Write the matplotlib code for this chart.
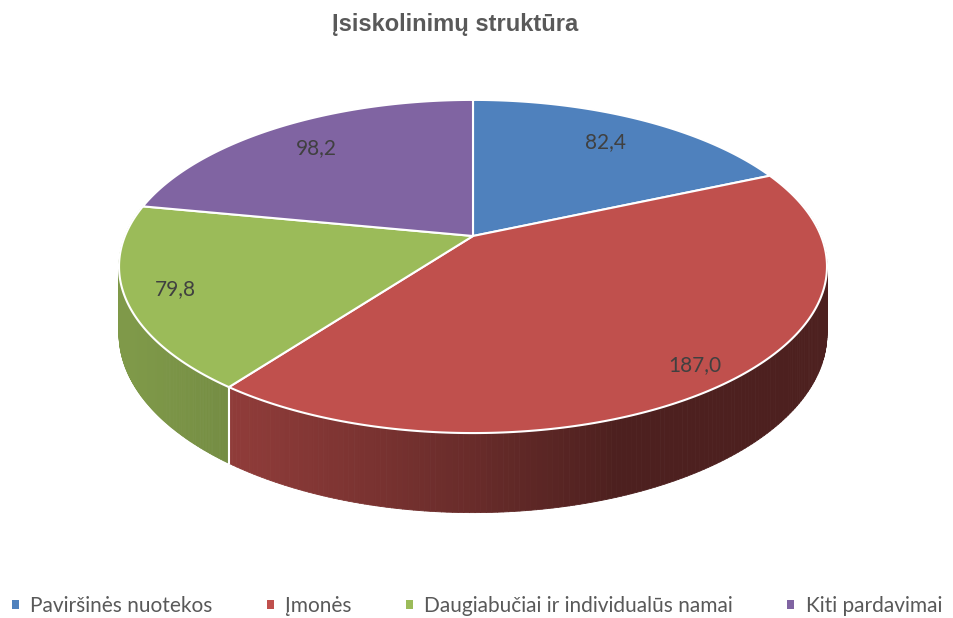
import numpy as np
import matplotlib
matplotlib.use('Agg')
import matplotlib.pyplot as plt
from matplotlib.patches import Polygon, Patch
from matplotlib.collections import PolyCollection

# data
categories = ['Paviršinės nuotekos', 'Įmonės', 'Daugiabučiai ir individualūs namai', 'Kiti pardavimai']
values = [82.4, 187.0, 79.8, 98.2]
value_labels = ['82,4', '187,0', '79,8', '98,2']
colors = ['#4F81BD', '#C0504D', '#9BBB59', '#8064A2']
title = 'Įsiskolinimų struktūra'

# geometry of the tilted disc (pixels)
cx, cy = 473, 236
A, B, p, H = 348, 161, 0.183, 65


def proj(X, Y):
    d = 1 + p * Y
    return cx + A * X / d, cy - B * Y / d


def shade(hexcol, f):
    rgb = np.array(matplotlib.colors.to_rgb(hexcol))
    return tuple(np.clip(rgb * f, 0, 1))


fig = plt.figure(figsize=(9.54, 6.18), dpi=100)
ax = fig.add_axes([0, 0, 1, 1])
ax.set_xlim(0, 954)
ax.set_ylim(618, 0)
ax.axis('off')

vals = np.array(values)
edges = 90 - 360 * np.concatenate([[0], np.cumsum(vals)]) / vals.sum()

# side walls
segs, segcols, order = [], [], []
for i in range(len(vals)):
    t = np.linspace(edges[i], edges[i + 1], 200)
    for a0, a1 in zip(t[:-1], t[1:]):
        am = np.radians((a0 + a1) / 2)
        if np.sin(am) > 0.2:
            continue
        pts = []
        for a in (a0, a1):
            r = np.radians(a)
            x, y = proj(np.cos(r), np.sin(r))
            pts.append((x, y))
        bot = []
        for a in (a1, a0):
            r = np.radians(a)
            x, y = proj(np.cos(r), np.sin(r))
            bot.append((x, y + H / (1 + p * np.sin(r))))
        segs.append(pts + bot)
        light = max(0.0, np.cos(am - np.radians(-160)))
        segcols.append(shade(colors[i], 0.40 + 0.42 * light))
        order.append(np.sin(am))
idx = np.argsort(order)[::-1]
pc = PolyCollection([segs[k] for k in idx], facecolors=[segcols[k] for k in idx],
                    edgecolors=[segcols[k] for k in idx], linewidths=0.6)
ax.add_collection(pc)

# seams between slices on the visible wall
for a in edges[1:-1]:
    r = np.radians(a)
    if np.sin(r) < -0.05:
        x, y = proj(np.cos(r), np.sin(r))
        ax.plot([x, x], [y, y + H / (1 + p * np.sin(r))], color='white', lw=1.5)

# top faces
for i in range(len(vals)):
    t = np.radians(np.linspace(edges[i], edges[i + 1], 300))
    xs, ys = proj(np.cos(t), np.sin(t))
    pts = [(cx, cy)] + list(zip(xs, ys))
    ax.add_patch(Polygon(pts, closed=True, facecolor=colors[i], edgecolor='white',
                         lw=1.5, joinstyle='round'))

# value labels
for i in range(len(vals)):
    m = np.radians((edges[i] + edges[i + 1]) / 2)
    rr = 0.84 - 0.07 * np.sin(m)
    x, y = proj(rr * np.cos(m), rr * np.sin(m))
    ax.text(x, y, value_labels[i], ha='center', va='center', fontsize=15,
            color='#404040', family=['Lato', 'DejaVu Sans'])

ax.text(455, 24, title, ha='center', va='center', fontsize=17, fontweight='bold',
        color='#595959', family=['Liberation Sans', 'DejaVu Sans'])

handles = [Patch(facecolor=c, edgecolor='none') for c in colors]
leg = fig.legend(handles, categories, ncol=4, loc='center',
                 bbox_to_anchor=(0.5, 1 - 606 / 618), frameon=False,
                 handlelength=0.33, handleheight=0.33, handletextpad=0.55,
                 columnspacing=2.6, borderpad=0, borderaxespad=0,
                 prop={'family': ['Lato', 'DejaVu Sans'], 'size': 15})
for txt in leg.get_texts():
    txt.set_color('#595959')

fig.savefig('out.png', dpi=100, facecolor='white')
